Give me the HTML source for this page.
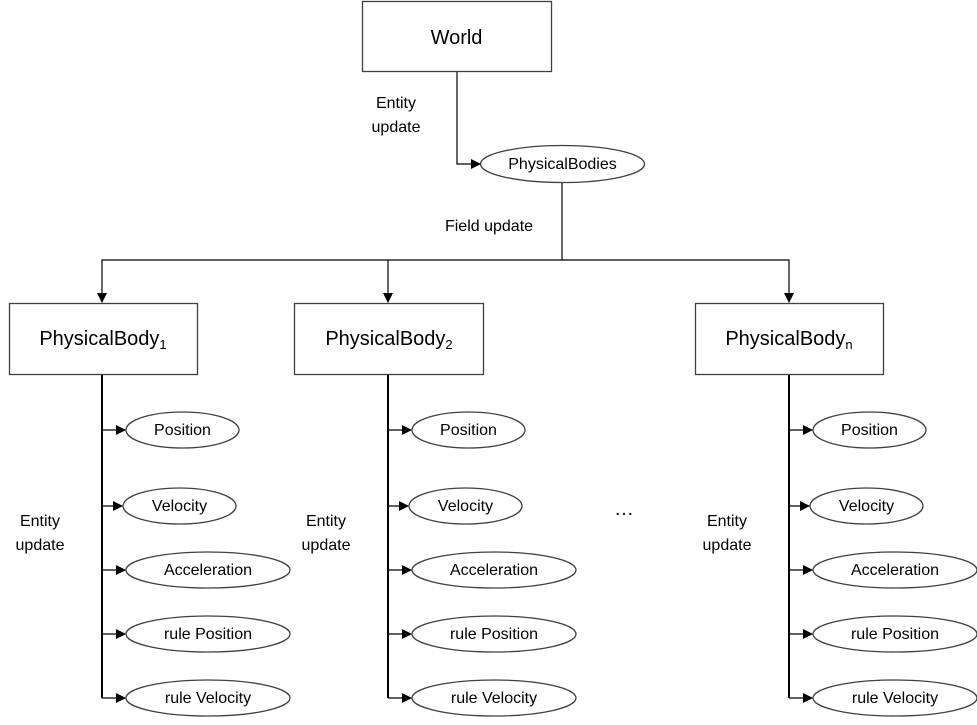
<!DOCTYPE html>
<html><head><style>
body{margin:0;background:#fff;}
svg text{font-family:"Liberation Sans",sans-serif;fill:#000;}
</style></head><body>
<svg width="977" height="720" xmlns="http://www.w3.org/2000/svg">
<defs><marker id="a" markerWidth="10" markerHeight="10" refX="9" refY="5" orient="auto" markerUnits="userSpaceOnUse"><path d="M0,0 L10,5 L0,10 z" fill="#000"/></marker></defs>
<g stroke="#404040" stroke-width="1.3" fill="#fff">
<rect x="362.5" y="1.5" width="189" height="70"/>
<ellipse cx="562.5" cy="164" rx="82" ry="18.5"/>
<rect x="9.5" y="303.5" width="188" height="71"/>
<rect x="294.5" y="303.5" width="189" height="71"/>
<rect x="695.5" y="303.5" width="188" height="71"/>
</g>
<g stroke="#000" stroke-width="1.2" fill="none">
<polyline points="457,72 457,164 480,164" marker-end="url(#a)"/>
<polyline points="562,183 562,260 102,260 102,302" marker-end="url(#a)"/>
<polyline points="388,260 388,302" marker-end="url(#a)"/>
<polyline points="562,260 789,260 789,302" marker-end="url(#a)"/>
</g>
<text x="456.5" y="44" font-size="20" text-anchor="middle">World</text>
<text x="562.5" y="169" font-size="16" text-anchor="middle">PhysicalBodies</text>
<text x="396" y="108" font-size="16" text-anchor="middle">Entity</text>
<text x="396" y="132" font-size="16" text-anchor="middle">update</text>
<text x="489" y="231" font-size="16" text-anchor="middle">Field update</text>
<text x="624" y="515" font-size="20" text-anchor="middle">…</text>
<g id="c1">
<line x1="102" y1="375" x2="102" y2="698" stroke="#000" stroke-width="2"/>
<g stroke="#000" stroke-width="1.2" marker-end="url(#a)">
<line x1="102" y1="430" x2="125" y2="430"/>
<line x1="102" y1="506" x2="122" y2="506"/>
<line x1="102" y1="570" x2="125" y2="570"/>
<line x1="102" y1="634" x2="125" y2="634"/>
<line x1="102" y1="698" x2="125" y2="698"/>
</g>
<g stroke="#404040" stroke-width="1.3" fill="#fff">
<ellipse cx="182.5" cy="430" rx="56.5" ry="18"/>
<ellipse cx="179.5" cy="506" rx="56.5" ry="18"/>
<ellipse cx="208" cy="570" rx="82" ry="18"/>
<ellipse cx="208" cy="634" rx="82" ry="18"/>
<ellipse cx="208" cy="698" rx="82" ry="18"/>
</g>
<g font-size="16" text-anchor="middle">
<text x="182.5" y="435">Position</text>
<text x="179.5" y="511">Velocity</text>
<text x="208" y="575">Acceleration</text>
<text x="208" y="639">rule Position</text>
<text x="208" y="703">rule Velocity</text>
<text x="40" y="526">Entity</text>
<text x="40" y="550">update</text>
</g>
</g>
<use href="#c1" x="286"/>
<use href="#c1" x="687"/>
<g font-size="20" text-anchor="middle">
<text x="103" y="345">PhysicalBody<tspan font-size="13" dy="4">1</tspan></text>
<text x="389" y="345">PhysicalBody<tspan font-size="13" dy="4">2</tspan></text>
<text x="789" y="345">PhysicalBody<tspan font-size="13" dy="4">n</tspan></text>
</g>
</svg>
</body></html>
